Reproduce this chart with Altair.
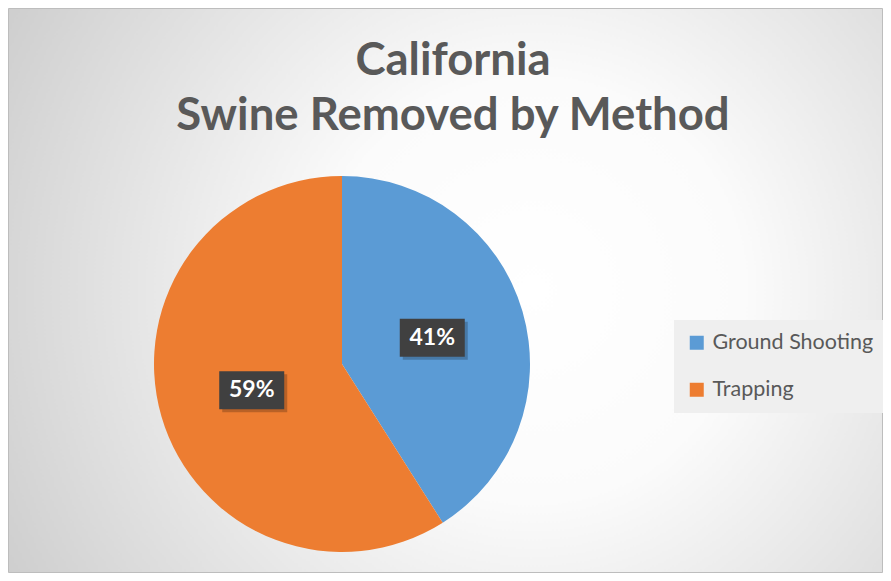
import altair as alt
import pandas as pd

# ---- data ----
methods = ["Ground Shooting", "Trapping"]
shares = [41, 59]
colors = ["#5b9bd5", "#ed7d31"]
title_lines = ["California", "Swine Removed by Method"]

# ---- layout ----
W, H = 875, 565
CX, CY = 334, 356
R = 188
LR = 94
BW, BH = 65, 38

df = pd.DataFrame({"method": methods, "share": shares, "order": list(range(len(methods)))})

bg = alt.Chart(alt.Data(values=[{"a": 1}])).mark_rect(
    fill=alt.RadialGradient(
        gradient="radial",
        stops=[
            alt.GradientStop(color="#ffffff", offset=0),
            alt.GradientStop(color="#fbfbfb", offset=0.3),
            alt.GradientStop(color="#c2c2c2", offset=1),
        ],
        x1=0.6, y1=0.5, r1=0, x2=0.6, y2=0.5, r2=0.8,
    ),
    stroke="#bdbdbd",
    strokeWidth=1,
).encode(x=alt.value(0.5), x2=alt.value(W - 0.5), y=alt.value(0.5), y2=alt.value(H - 0.5))

title = alt.Chart(alt.Data(values=[{"a": 1}])).mark_text(
    text=title_lines,
    font="Lato",
    fontSize=45.5,
    fontWeight="bold",
    color="#595959",
    align="center",
    baseline="alphabetic",
    lineHeight=55,
).encode(x=alt.value(445), y=alt.value(67))

pie = alt.Chart(df).mark_arc(radius=R).encode(
    theta=alt.Theta("share:Q", stack=True),
    order=alt.Order("order:Q"),
    color=alt.Color(
        "method:N",
        scale=alt.Scale(domain=methods, range=colors),
        legend=alt.Legend(
            orient="none",
            legendX=666,
            legendY=312,
            title=None,
            symbolType="square",
            symbolSize=196,
            symbolStrokeWidth=0,
            labelFont="Lato",
            labelFontSize=21.5,
            labelColor="#595959",
            labelOffset=5,
            labelLimit=400,
            rowPadding=24,
            padding=12,
            fillColor="#efefef",
        ),
    ),
    x=alt.value(CX),
    y=alt.value(CY),
)

lab_base = alt.Chart(df).transform_joinaggregate(
    total="sum(share)"
).transform_window(
    cum="sum(share)", sort=[alt.SortField("order")]
).transform_calculate(
    mid="(datum.cum - datum.share / 2) / datum.total * 2 * PI",
).transform_calculate(
    lx=f"{CX} + {LR} * sin(datum.mid)",
    ly=f"{CY} - {LR} * cos(datum.mid)",
    label="datum.share + '%'",
).transform_calculate(
    bx1=f"datum.lx - {BW / 2}",
    bx2=f"datum.lx + {BW / 2}",
    by1=f"datum.ly - {BH / 2}",
    by2=f"datum.ly + {BH / 2}",
    sx1=f"datum.lx - {BW / 2} + 3",
    sx2=f"datum.lx + {BW / 2} + 3",
    sy1=f"datum.ly - {BH / 2} + 3",
    sy2=f"datum.ly + {BH / 2} + 3",
)

shadow = lab_base.mark_rect(color="#000000", opacity=0.22).encode(
    x=alt.X("sx1:Q", scale=None), x2="sx2:Q",
    y=alt.Y("sy1:Q", scale=None), y2="sy2:Q",
)
box = lab_base.mark_rect(color="#404040").encode(
    x=alt.X("bx1:Q", scale=None), x2="bx2:Q",
    y=alt.Y("by1:Q", scale=None), y2="by2:Q",
)
txt = lab_base.mark_text(
    font="Lato", fontSize=23, fontWeight="bold", color="#ffffff",
    align="center", baseline="middle",
).encode(
    x=alt.X("lx:Q", scale=None),
    y=alt.Y("ly:Q", scale=None),
    text="label:N",
)

chart = alt.layer(bg, title, pie, shadow, box, txt).properties(
    width=W, height=H, autosize=alt.AutoSizeParams(type="none"), padding=0,
    background="#ffffff",
).configure_view(stroke=None)

chart.save("out.html", embed_options={"renderer": "svg", "actions": False})
